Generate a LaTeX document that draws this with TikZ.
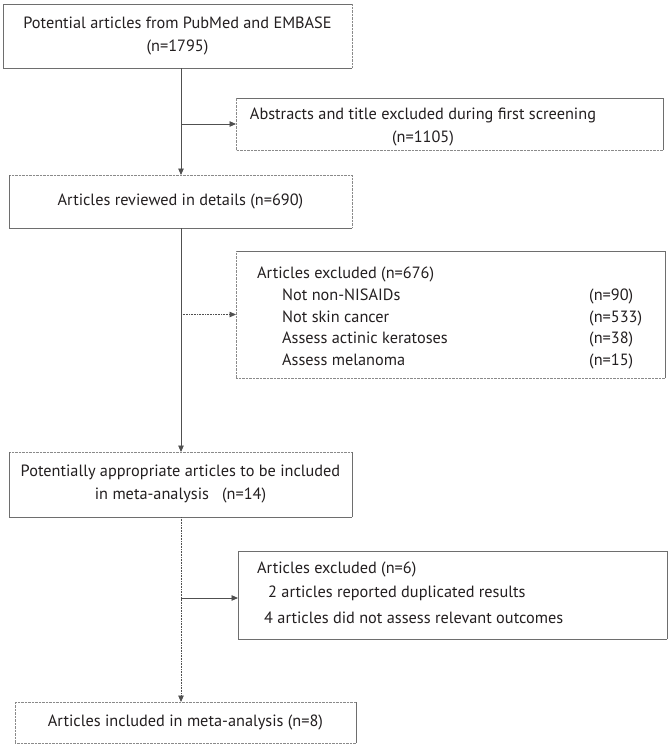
\documentclass[tikz,border=0pt]{standalone}
\usepackage{fontspec}
\setmainfont{PT Sans}
\usetikzlibrary{arrows.meta}
\definecolor{edgegray}{HTML}{6E6E6E}
\definecolor{dotgray}{HTML}{8A8A8A}
\definecolor{linegray}{HTML}{505050}
\definecolor{txt}{HTML}{231F20}
\newcommand\boxedges[5]{%
  \draw[#2] (#1.north west) -- (#1.north east);
  \draw[#3] (#1.north east) -- (#1.south east);
  \draw[#4] (#1.south east) -- (#1.south west);
  \draw[#5] (#1.south west) -- (#1.north west);}
\begin{document}
\begin{tikzpicture}[x=1pt,y=-1pt,
  every node/.style={text=txt, font=\fontsize{16.3}{23}\selectfont},
  fbox/.style={inner sep=0pt, outer sep=0pt, align=center},
  sol/.style={draw=edgegray, line width=0.8pt},
  dot/.style={draw=dotgray, line width=0.8pt, dash pattern=on 0.7pt off 0.7pt},
  conn/.style={draw=linegray, line width=0.9pt},
  dconn/.style={draw=linegray, line width=0.8pt, dash pattern=on 0.8pt off 0.8pt},
  tip/.style={-{Triangle[length=6.5pt,width=5.5pt]}},
  lt/.style={anchor=base west, inner sep=0pt}]
\useasboundingbox (0,0) rectangle (672,748);
\fill[white] (0,0) rectangle (672,748);
\coordinate (spine) at (181,0);
% boxes
\node[fbox, minimum width=349pt, minimum height=64pt] (b1) at (177.5,36)
  {Potential articles from PubMed and EMBASE\\(n=1795)};
\node[fbox, minimum width=427pt, minimum height=52pt] (b2) at (449.5,124) {};
\node[fbox, minimum width=343pt, minimum height=53pt] (b3) at (180.5,201.5)
  {Articles reviewed in details (n=690)};
\node[fbox, minimum width=429pt, minimum height=127pt] (b4) at (450.5,314.5) {};
\node[fbox, minimum width=343pt, minimum height=65pt] (b5) at (180.5,484.5)
  {Potentially appropriate articles to be included\\in meta-analysis \ \ (n=14)};
\node[fbox, minimum width=429pt, minimum height=88pt] (b6) at (452.5,595) {};
\node[fbox, minimum width=341pt, minimum height=41pt] (b7) at (185.5,722.5)
  {Articles included in meta-analysis (n=8)};
\boxedges{b1}{sol}{dot}{sol}{sol}
\boxedges{b2}{sol}{sol}{dot}{dot}
\boxedges{b3}{dot}{dot}{sol}{sol}
\boxedges{b4}{sol}{sol}{dot}{dot}
\boxedges{b5}{dot}{sol}{sol}{sol}
\boxedges{b6}{sol}{sol}{sol}{sol}
\boxedges{b7}{dot}{sol}{dot}{dot}
% texts of side boxes
\node[fbox] (t2) at (423,127) {Abstracts and title excluded during first screening\\(n=1105)};
\node[lt] (t4a) at (257,278) {Articles excluded (n=676)};
\node[lt] (t4b) at (282,300) {Not non-NISAIDs};
\node[lt] (t4c) at (282,322) {Not skin cancer};
\node[lt] (t4d) at (282,343) {Assess actinic keratoses};
\node[lt] (t4e) at (282,365) {Assess melanoma};
\node[lt] (t4f) at (589,300) {(n=90)};
\node[lt] (t4g) at (589,322) {(n=533)};
\node[lt] (t4h) at (589,343) {(n=38)};
\node[lt] (t4i) at (589,365) {(n=15)};
\node[lt] (t6a) at (257,573) {Articles excluded (n=6)};
\node[lt] (t6b) at (268,597) {2 articles reported duplicated results};
\node[lt] (t6c) at (264,623) {4 articles did not assess relevant outcomes};
% connectors
\draw[conn, tip] (b1.south -| spine) -- (b3.north -| spine);
\draw[conn, tip] (spine |- b2.west) -- (b2.west);
\draw[conn, tip] (b3.south -| spine) -- (b5.north -| spine);
\draw[dconn, tip] (spine |- b4.west) -- (b4.west);
\draw[dconn, tip] (b5.south -| spine) -- (b7.north -| spine);
\coordinate (j6) at (181,598);
\draw[conn, tip] (j6) -- (j6 -| b6.west);
\end{tikzpicture}
\end{document}
